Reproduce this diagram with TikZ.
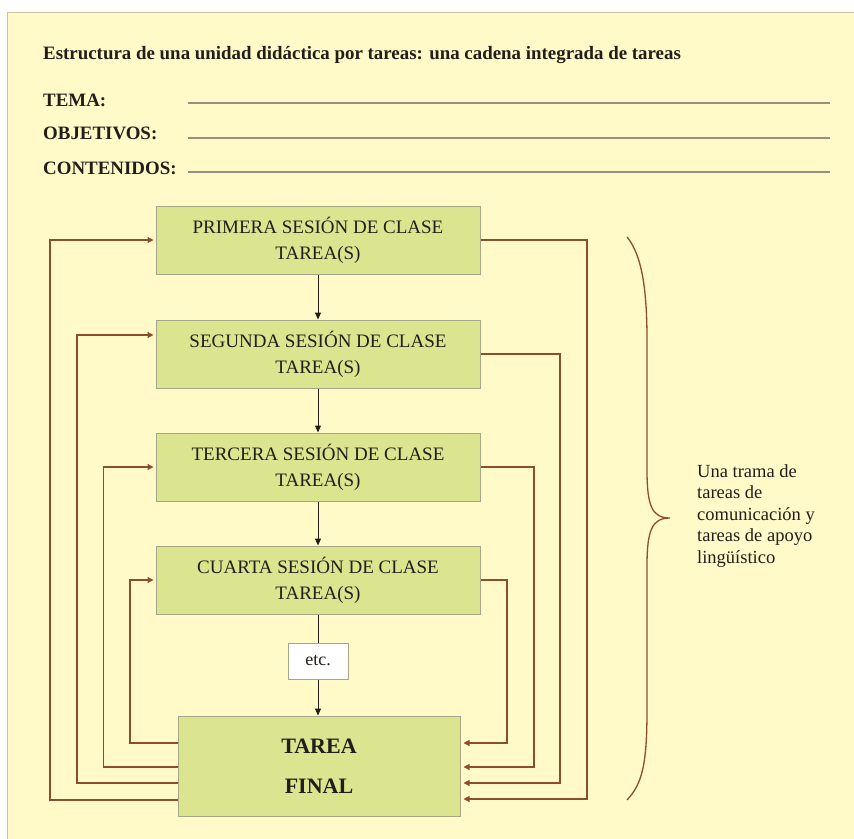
\documentclass[tikz,border=0pt]{standalone}
\usepackage{fontspec}
\setmainfont{Liberation Serif}
\usetikzlibrary{arrows.meta}

\definecolor{panelfill}{RGB}{255,250,200}
\definecolor{panelline}{RGB}{205,195,150}
\definecolor{boxfill}{RGB}{219,228,142}
\definecolor{boxline}{RGB}{165,165,135}
\definecolor{trama}{RGB}{140,78,45}
\definecolor{ink}{RGB}{35,30,25}
\definecolor{rule}{RGB}{150,145,125}

\tikzset{
  sesion/.style={draw=boxline, fill=boxfill, line width=1pt, minimum width=324pt,
    minimum height=68pt, inner sep=0pt, align=center, text=ink,
    font=\fontsize{19}{26}\selectfont},
  final/.style={draw=boxline, fill=boxfill, line width=1pt, minimum width=282pt,
    minimum height=100pt, inner sep=0pt, align=center, text=ink,
    font=\bfseries\fontsize{22}{40}\selectfont},
  etcbox/.style={draw=boxline, fill=white, line width=1pt, minimum width=60pt,
    minimum height=36pt, inner sep=0pt, text=ink, font=\fontsize{18}{20}\selectfont},
  label/.style={anchor=base west, inner sep=0pt, text=ink,
    font=\bfseries\fontsize{18.9}{22}\selectfont},
  blank/.style={draw=rule, line width=1.2pt},
  baja/.style={draw=ink, line width=1pt, -{Triangle[length=7pt,width=6pt]}},
  fb/.style={draw=trama, line width=1.2pt, -{Triangle[length=6pt,width=6pt]}}
}

\begin{document}
\begin{tikzpicture}[x=1pt,y=-1pt]
  \useasboundingbox (0,0) rectangle (854,838);
  \fill[white] (0,0) rectangle (854,838);
  \fill[panelfill] (7,12) rectangle (860,845);
  \draw[panelline, line width=1pt] (860,12) -- (7,12) -- (7,845);

  % cabecera
  \node[label] (titulo) at (43,59) {Estructura de una unidad didáctica por tareas: una cadena integrada de tareas};
  \node[label] (tema) at (43,106) {TEMA:};
  \node[label] (objetivos) at (43,139) {OBJETIVOS:};
  \node[label] (contenidos) at (43,174) {CONTENIDOS:};
  \draw[blank] (188,103) -- (830,103);
  \draw[blank] (188,138) -- (830,138);
  \draw[blank] (188,172) -- (830,172);

  % sesiones
  \node at (318,240) [sesion] (s1) {PRIMERA SESIÓN DE CLASE\\TAREA(S)};
  \node at (318,354) [sesion] (s2) {SEGUNDA SESIÓN DE CLASE\\TAREA(S)};
  \node at (318,467) [sesion] (s3) {TERCERA SESIÓN DE CLASE\\TAREA(S)};
  \node at (318,580) [sesion] (s4) {CUARTA SESIÓN DE CLASE\\TAREA(S)};
  \node at (318,661) [etcbox] (etcb) {etc.};
  \node at (319,766) [final] (tf) {TAREA\\FINAL};

  \draw[baja] (s1) -- (s2);
  \draw[baja] (s2) -- (s3);
  \draw[baja] (s3) -- (s4);
  \draw[-, draw=ink, line width=1pt] (s4) -- (etcb);
  \draw[baja] (etcb) -- (etcb |- tf.north);

  % hacia la tarea final
  \coordinate (r1) at (587,799);
  \coordinate (r2) at (560,783);
  \coordinate (r3) at (534,767);
  \coordinate (r4) at (507,743);
  \draw[fb, shorten >=3pt] (s1.east) -| (r1) -- (r1 -| tf.east);
  \draw[fb, shorten >=3pt] (s2.east) -| (r2) -- (r2 -| tf.east);
  \draw[fb, shorten >=3pt] (s3.east) -| (r3) -- (r3 -| tf.east);
  \draw[fb, shorten >=3pt] (s4.east) -| (r4) -- (r4 -| tf.east);

  % vuelta a las sesiones
  \coordinate (l1) at (50,800);
  \coordinate (l2) at (77,783);
  \coordinate (l3) at (103.5,767);
  \coordinate (l4) at (130,743);
  \draw[fb, shorten >=2pt] (l1 -| tf.west) -- (l1) |- (s1.west);
  \draw[fb, shorten >=2pt] (l2 -| tf.west) -- (l2) |- ([yshift=19pt]s2.west);
  \draw[fb, shorten >=2pt] (l3 -| tf.west) -- (l3) |- (s3.west);
  \draw[fb, shorten >=2pt] (l4 -| tf.west) -- (l4) |- (s4.west);

  % llave
  \draw[trama, line width=1.3pt] (627,237) .. controls (642,255) and (647,290) .. (647,340)
    -- (647,470) .. controls (647,506) and (652,518) .. (670,518)
    .. controls (652,518) and (647,530) .. (647,566)
    -- (647,710) .. controls (647,765) and (642,784) .. (627,800);
  \node[anchor=west, align=left, inner sep=0pt, text=ink,
    font=\fontsize{18.5}{21.5}\selectfont] (tramatxt) at (697,516)
    {Una trama de\\tareas de\\comunicación y\\tareas de apoyo\\lingüístico};
\end{tikzpicture}
\end{document}
